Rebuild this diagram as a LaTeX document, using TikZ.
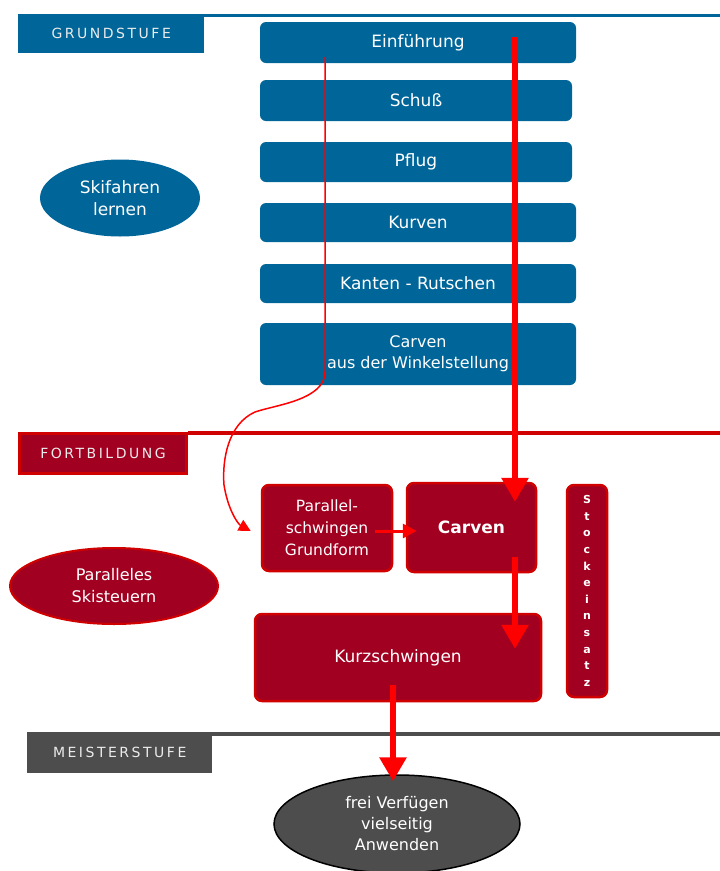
\documentclass[tikz,border=0pt]{standalone}
\usepackage{fontspec}
\setsansfont{DejaVu Sans}
\newfontfamily\headfont[LetterSpace=18]{DejaVu Sans}
\usetikzlibrary{arrows.meta,shapes.geometric}

\definecolor{skiblue}{HTML}{006699}
\definecolor{skired}{HTML}{A10021}
\definecolor{skiredline}{HTML}{D00000}
\definecolor{skigray}{HTML}{4D4D4D}
\definecolor{arrowred}{HTML}{FF0000}

\tikzset{
  bluebox/.style={rectangle, rounded corners=6pt, fill=skiblue, text=white,
    font=\sffamily\fontsize{17}{21}\selectfont, align=center},
  redbox/.style={rectangle, rounded corners=7pt, fill=skired, draw=skiredline,
    line width=2.5pt, text=white, font=\sffamily\fontsize{15.5}{22}\selectfont, align=center},
  headbox/.style={rectangle, anchor=north west, text=white!92!black, inner sep=0pt,
    font=\headfont\fontsize{14}{15}\selectfont},
  oval/.style={ellipse, inner sep=0pt, text=white, align=center,
    font=\sffamily\fontsize{16}{22}\selectfont},
  bigarrow/.style={arrowred, line width=6pt, -{Triangle[width=26pt,length=24pt]}},
  midarrow/.style={arrowred, line width=3pt, -{Triangle[width=14pt,length=14pt]}},
  thinarrow/.style={arrowred, line width=1.5pt, -{Triangle[width=12pt,length=12pt]}},
}

\begin{document}
\begin{tikzpicture}[x=1pt, y=-1pt]
    \useasboundingbox (0,0) rectangle (720,871);

    % Grundstufe
    \node[headbox, fill=skiblue, minimum width=186, minimum height=39] (grund) at (18,14) {GRUNDSTUFE};
    \draw[skiblue, line width=3pt] ([yshift=-1.5pt]grund.north east) -- ++(516,0);

    \node[bluebox, minimum width=316, minimum height=41] (einf)    at (418,42.5)  {Einführung};
    \node[bluebox, minimum width=312, minimum height=41] (schuss)  at (416,100.5) {Schuß};
    \node[bluebox, minimum width=312, minimum height=40] (pflug)   at (416,162)   {Pflug};
    \node[bluebox, minimum width=316, minimum height=39] (kurven)  at (418,222.5) {Kurven};
    \node[bluebox, minimum width=316, minimum height=39] (kanten)  at (418,283.5) {Kanten - Rutschen};
    \node[bluebox, minimum width=316, minimum height=62, font=\sffamily\fontsize{16}{21}\selectfont] (winkel) at (418,354)
        {Carven\\aus der Winkelstellung};

    \node[oval, fill=skiblue, minimum width=160, minimum height=77, font=\sffamily\fontsize{17}{22}\selectfont] (skifahren) at (120,198) {Skifahren\\lernen};

    % Fortbildung
    \node[headbox, fill=skired, draw=skiredline, line width=3pt, minimum width=167, minimum height=40] (fort) at (18,432) {FORTBILDUNG};
    \draw[skiredline, line width=4pt] ([yshift=-1pt]fort.north east) -- ++(535,0);

    \node[redbox, minimum width=130, minimum height=86] (par)    at (327,528)   {Parallel-\\schwingen\\Grundform};
    \node[redbox, minimum width=129, minimum height=89, font=\sffamily\bfseries\fontsize{17}{20}\selectfont] (carven) at (471.5,527.5) {Carven};
    \node[redbox, minimum width=40, minimum height=212, font=\sffamily\bfseries\fontsize{11}{16.6}\selectfont] (stock) at (587,591)
        {S\\t\\o\\c\\k\\e\\i\\n\\s\\a\\t\\z};
    \node[redbox, minimum width=286, minimum height=87, font=\sffamily\fontsize{17}{22}\selectfont] (kurz) at (398,657.5) {Kurzschwingen};

    \node[oval, fill=skired, draw=skiredline, line width=2pt, minimum width=208, minimum height=76] (paralleles) at (114,586) {Paralleles\\Skisteuern};

    % Meisterstufe
    \node[headbox, fill=skigray, minimum width=185, minimum height=41] (meister) at (27,732) {MEISTERSTUFE};
    \draw[skigray, line width=4pt] ([yshift=-2pt]meister.north east) -- ++(508,0);

    \node[oval, fill=skigray, draw=black, line width=1.5pt, minimum width=246, minimum height=98,
          font=\sffamily\fontsize{16}{21}\selectfont] (frei) at (397,824) {frei Verfügen\\vielseitig\\Anwenden};

    % Pfeile
    \coordinate (einfcurve) at (325,57);
    \coordinate (einfdown) at (515,37);
    \coordinate (pardown) at (375,531);
    \coordinate (carvendown) at (515,557);
    \coordinate (kurzdown) at (393,685);

    \draw[thinarrow] (einfcurve) -- (325,372)
        .. controls (325,400) and (275,405) .. (255,412)
        .. controls (228,424) and (222,460) .. (224,485)
        .. controls (228,510) and (238,524) .. ([xshift=-10pt,yshift=-3pt]par.west);
    \draw[bigarrow] (einfdown) -- ([yshift=-20pt]einfdown |- carven.north);
    \draw[midarrow] (pardown) -- ([xshift=11pt]pardown -| carven.west);
    \draw[bigarrow] (carvendown) -- ([yshift=-36pt]carvendown |- kurz.north);
    \draw[bigarrow] (kurzdown) -- ([yshift=-7pt]kurzdown |- frei.north);
\end{tikzpicture}
\end{document}
